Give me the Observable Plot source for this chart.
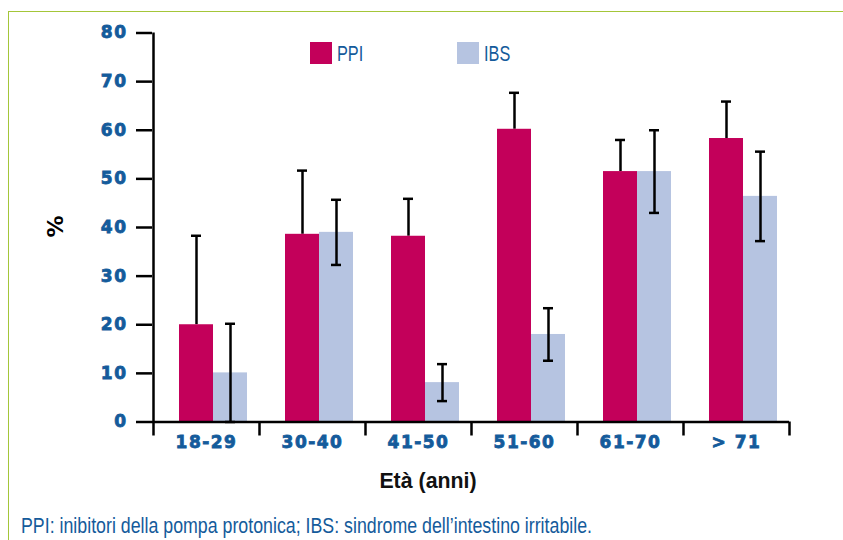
<!DOCTYPE html>
<html>
<head>
<meta charset="utf-8">
<script src="https://cdn.jsdelivr.net/npm/d3@7"></script>
<script src="https://cdn.jsdelivr.net/npm/@observablehq/plot@0.6"></script>
<style>
  body { margin: 0; background: #fff; }
  #wrap { position: relative; width: 843px; height: 540px; overflow: hidden; background: #fff; }
  #border { position: absolute; left: 8px; top: 11px; right: -10px; bottom: -10px;
            border-left: 1.5px solid #a4c639; border-top: 1.5px solid #a4c639; }
  #chart { position: absolute; left: 0; top: 0; }
  .legend-item { position: absolute; top: 42px; height: 22px; }
  .swatch { position: absolute; top: 0; left: 0; width: 22px; height: 22px; }
  .legend-text { position: absolute; left: 27px; top: 0.7px; font: 22px/22px "Liberation Sans", Arial, sans-serif;
                 color: #145b9b; white-space: nowrap; transform: scaleX(0.74); transform-origin: 0 0; }
  #xlabel { position: absolute; top: 470px; left: 428px; transform: translateX(-50%) scaleX(0.97);
            font: bold 22px/22px "Liberation Sans", Arial, sans-serif; color: #111; white-space: nowrap; }
  #caption { position: absolute; top: 515px; left: 21px; font: 22px/22px "Liberation Sans", Arial, sans-serif;
             color: #145b9b; white-space: nowrap; transform-origin: 0 0; }
  #chart text { font-family: "DejaVu Sans", sans-serif; }
  [aria-label="y-axis tick label"] text, [aria-label="x-axis tick label"] text {
    font-family: "DejaVu Sans", sans-serif; font-weight: bold; font-size: 17px; letter-spacing: 1.5px;
    fill: #145b9b; stroke: #145b9b; stroke-width: 0.8px;
  }
</style>
</head>
<body>
<div id="wrap">
  <div id="border"></div>
  <div id="chart"></div>
  <div id="legend"></div>
  <div id="xlabel"></div>
  <div id="caption"></div>
</div>
<script>
// ---- data ----
const ageGroups = ["18-29", "30-40", "41-50", "51-60", "61-70", "> 71"];
const ppiValues = [20.0, 38.6, 38.2, 60.2, 51.5, 58.3];
const ppiErrors = [18.3, 13.1, 7.7, 7.5, 6.5, 7.6];
const ibsValues = [10.1, 39.0, 8.1, 18.0, 51.5, 46.4];
const ibsErrors = [10.1, 6.7, 3.8, 5.4, 8.5, 9.2];
const yTicks = [0, 10, 20, 30, 40, 50, 60, 70, 80];
const seriesNames = ["PPI", "IBS"];
const seriesColors = ["#c3005a", "#b6c4e1"];
const yLabel = "%";
const xLabel = "Età (anni)";
const captionText = "PPI: inibitori della pompa protonica; IBS: sindrome dell\u2019intestino irritabile.";

const ppiRows = ageGroups.map((age, i) => ({age, series: seriesNames[0], value: ppiValues[i], err: ppiErrors[i]}));
const ibsRows = ageGroups.map((age, i) => ({age, series: seriesNames[1], value: ibsValues[i], err: ibsErrors[i]}));
const blue = "#145b9b";
const lw = 2.5;

const chart = Plot.plot({
  width: 843,
  height: 500,
  marginTop: 32.5,
  marginBottom: 78.5,
  marginLeft: 152,
  marginRight: 54,
  style: {background: "transparent", overflow: "visible"},
  x: {type: "band", domain: ageGroups, padding: 0},
  y: {domain: [0, 80]},
  marks: [
    // PPI whiskers (upper) and caps
    Plot.ruleX(ppiRows, {x: "age", y1: "value", y2: d => d.value + d.err, dx: -10, stroke: "#000", strokeWidth: lw}),
    Plot.tickY(ppiRows, {x: "age", y: d => d.value + d.err, insetLeft: 38, insetRight: 58, stroke: "#000", strokeWidth: lw}),
    // bars
    Plot.barY(ppiRows, {x: "age", y: "value", fill: seriesColors[0], insetLeft: 26, insetRight: 46}),
    Plot.barY(ibsRows, {x: "age", y: "value", fill: seriesColors[1], insetLeft: 60, insetRight: 12}),
    // IBS whiskers and caps
    Plot.ruleX(ibsRows, {x: "age", y1: d => d.value - d.err, y2: d => d.value + d.err, dx: 24, stroke: "#000", strokeWidth: lw}),
    Plot.tickY(ibsRows, {x: "age", y: d => d.value + d.err, insetLeft: 72, insetRight: 24, stroke: "#000", strokeWidth: lw}),
    Plot.tickY(ibsRows, {x: "age", y: d => d.value - d.err, insetLeft: 72, insetRight: 24, stroke: "#000", strokeWidth: lw}),
    // axes
    Plot.ruleX([ageGroups[0]], {x: d => d, y1: 0, y2: 80, dx: -53, stroke: "#000", strokeWidth: lw}),
    Plot.ruleY([0], {stroke: "#000", strokeWidth: lw}),
    Plot.ruleX(ageGroups, {x: d => d, y1: 0, y2: 0, insetBottom: -14, dx: -53, stroke: "#000", strokeWidth: lw}),
    Plot.ruleX([ageGroups[ageGroups.length - 1]], {x: d => d, y1: 0, y2: 0, insetBottom: -14, dx: 53, stroke: "#000", strokeWidth: lw}),
    Plot.axisY({ticks: yTicks, tickSize: 16, tickPadding: 9, stroke: "#000", strokeWidth: lw, fill: blue, label: null}),
    Plot.axisX({tickSize: 0, tickPadding: 14, fill: blue, label: null}),
    Plot.text([yLabel], {frameAnchor: "left", dx: -97, dy: 10, rotate: -90, fontSize: 22, fontWeight: "bold", fill: "#000"})
  ]
});
document.getElementById("chart").appendChild(chart);

// legend (HTML overlay inside the plot area)
const legendX = [310, 457];
const legend = document.getElementById("legend");
seriesNames.forEach((name, i) => {
  const item = document.createElement("div");
  item.className = "legend-item";
  item.style.left = legendX[i] + "px";
  item.innerHTML = `<div class="swatch" style="background:${seriesColors[i]}"></div><div class="legend-text">${name}</div>`;
  legend.appendChild(item);
});

document.getElementById("xlabel").textContent = xLabel;
const cap = document.getElementById("caption");
cap.textContent = captionText;
const natural = cap.getBoundingClientRect().width;
cap.style.transform = `scaleX(${571 / natural})`;
</script>
</body>
</html>
